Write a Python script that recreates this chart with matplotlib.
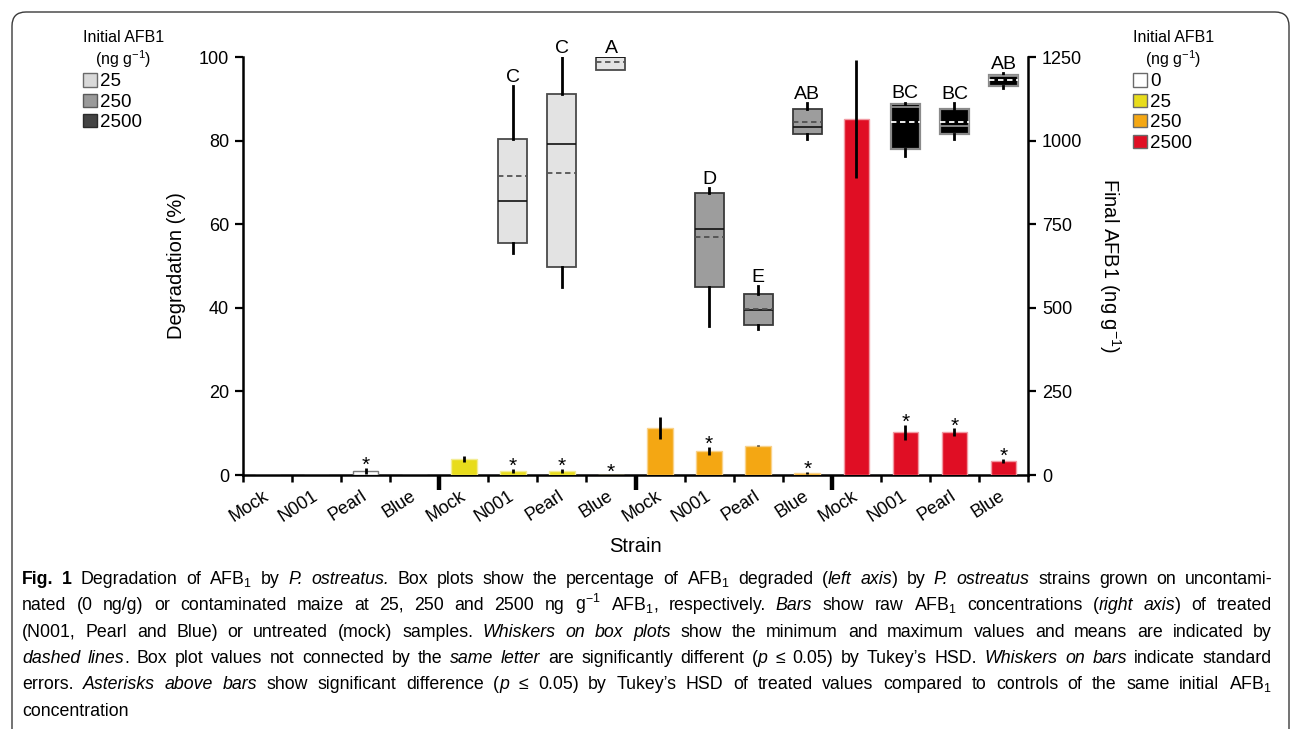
import matplotlib
matplotlib.use("Agg")
import matplotlib.pyplot as plt
from matplotlib import font_manager as fm
from matplotlib.patches import Patch, FancyBboxPatch
from matplotlib.transforms import IdentityTransform
import numpy as np

W, H = 1292, 729

plt.rcParams['font.family'] = ['Liberation Sans', 'DejaVu Sans']
plt.rcParams['mathtext.fontset'] = 'custom'
plt.rcParams['mathtext.rm'] = 'Liberation Sans'
plt.rcParams['mathtext.it'] = 'Liberation Sans:italic'
plt.rcParams['mathtext.bf'] = 'Liberation Sans:bold'

# ---- data ----
strains = ['Mock', 'N001', 'Pearl', 'Blue'] * 4
conc_labels = ['0', '25', '250', '2500']

# final AFB1 (ng/g), right axis bars
bar_final = [0, 0, 13, 0, 49, 12, 12, 0.8, 141, 72, 88, 7, 1064, 128, 128, 43]
bar_se = [0, 0, 9, 0, 9, 6, 6, 0.6, 32, 13, 1.5, 3, 177, 22, 12, 6]
bar_sig = [0, 0, 1, 0, 0, 1, 1, 1, 0, 1, 0, 1, 0, 1, 1, 1]

# degradation (%) box plots, left axis
box_cat = [5, 6, 7, 9, 10, 11, 13, 14, 15]
box_group = [1, 1, 1, 2, 2, 2, 3, 3, 3]
box_whishi = [93.0, 100.0, 100.0, 68.6, 45.2, 88.9, 89.1, 88.9, 96.2]
box_q3 = [80.3, 91.1, 100.0, 67.5, 43.3, 87.5, 88.7, 87.5, 95.8]
box_med = [65.5, 79.2, 100.0, 58.8, 39.4, 83.3, 88.0, 83.4, 95.5]
box_mean = [71.6, 72.3, 98.9, 56.9, 39.8, 84.4, 84.4, 84.4, 94.5]
box_q1 = [55.6, 49.8, 97.0, 45.0, 36.0, 81.5, 77.9, 81.6, 93.1]
box_whislo = [53.0, 45.0, 97.0, 35.7, 34.9, 80.5, 76.2, 80.5, 92.5]
box_letters = ['C', 'C', 'A', 'D', 'E', 'AB', 'BC', 'BC', 'AB']

# ---- styles ----
bar_face = ['#ffffff', '#e8dc1c', '#f4a713', '#e00e24']
bar_edge = ['#7a7a7a', '#f3ec95', '#f9d28a', '#f19aa3']
box_face = {1: '#e3e3e3', 2: '#9d9d9d', 3: '#000000'}
box_edge = {1: '#4a4a4a', 2: '#3a3a3a', 3: '#8a8a8a'}
box_medc = {1: '#111111', 2: '#111111', 3: '#9a9a9a'}
box_meanc = {1: '#555555', 2: '#505050', 3: '#ffffff'}

fig = plt.figure(figsize=(W / 100, H / 100), dpi=100)
ax = fig.add_axes([243 / W, 254 / H, 785 / W, 418 / H])
ax2 = ax.twinx()

ax.set_xlim(0, 16)
ax.set_ylim(0, 100)
ax2.set_ylim(0, 1250)

# bars
x = np.arange(16) + 0.5
grp = np.arange(16) // 4
ax2.bar(x, bar_final, width=0.52,
        color=[bar_face[g] for g in grp], edgecolor=[bar_edge[g] for g in grp],
        linewidth=1, yerr=bar_se,
        error_kw=dict(ecolor='black', elinewidth=2, capsize=0))
for xi, v, s, sig in zip(x, bar_final, bar_se, bar_sig):
    if sig:
        ax2.annotate('*', (xi, v + s), xytext=(0, -2.4), textcoords='offset points',
                     ha='center', va='baseline', fontsize=15)

# boxes
stats = []
for i in range(len(box_cat)):
    stats.append(dict(med=box_med[i], q1=box_q1[i], q3=box_q3[i], mean=box_mean[i],
                      whislo=box_whislo[i], whishi=box_whishi[i], fliers=[]))
pos = np.array(box_cat) + 0.5
bp = ax.bxp(stats, positions=pos, widths=0.59, patch_artist=True, showmeans=True,
            meanline=True, showcaps=False, showfliers=False, manage_ticks=False,
            whiskerprops=dict(color='black', linewidth=2),
            meanprops=dict(linestyle=(0, (3, 2)), linewidth=1.3),
            medianprops=dict(linewidth=1.2))
for i, g in enumerate(box_group):
    bp['boxes'][i].set_facecolor(box_face[g])
    bp['boxes'][i].set_edgecolor(box_edge[g])
    bp['boxes'][i].set_linewidth(1.3 if g < 3 else 1.6)
    bp['medians'][i].set_color(box_medc[g])
    bp['means'][i].set_color(box_meanc[g])
for p, top, lab in zip(pos, box_whishi, box_letters):
    ax.annotate(lab, (p, top), xytext=(0, 3), textcoords='offset points',
                ha='center', va='baseline', fontsize=14)

# axes styling
for a in (ax, ax2):
    a.spines['top'].set_visible(False)
ax.spines['right'].set_visible(False)
ax2.spines['left'].set_visible(False)
ax2.spines['bottom'].set_visible(False)
for a in (ax, ax2):
    for sp in a.spines.values():
        sp.set_linewidth(1.8)

ax.set_yticks(np.arange(0, 101, 20))
ax2.set_yticks(np.arange(0, 1251, 250))
ax.tick_params(axis='y', direction='out', length=6, width=1.6, labelsize=13, pad=4)
ax2.tick_params(axis='y', direction='out', length=6, width=1.6, labelsize=13, pad=4)

ax.set_xticks(np.arange(17))
ax.set_xticklabels([])
ax.set_xticks(x, strains, minor=True, rotation=33, ha='right', va='center',
              rotation_mode='anchor', fontsize=13)
ax.tick_params(axis='x', which='major', direction='out', length=5, width=1.8)
ax.tick_params(axis='x', which='minor', length=0, pad=14)
for i, t in enumerate(ax.xaxis.get_major_ticks()):
    if i in (4, 8, 12):
        t.tick1line.set_markersize(11)
        t.tick1line.set_markeredgewidth(3.2)

ax.set_xlabel('Strain', fontsize=14.5)
ax.xaxis.set_label_coords(0.5, -0.148)
ax.set_ylabel('Degradation (%)', fontsize=14.5)
ax.yaxis.set_label_coords(-0.072, 0.5)
ax2.set_ylabel('Final AFB1 (ng g$^{-1}$)', fontsize=14.5, rotation=270, va='bottom')
ax2.yaxis.set_label_coords(1.088, 0.5)

# legends
leg_kw = dict(loc='upper left', frameon=False, title='Initial AFB1\n(ng g$^{-1}$)',
              title_fontsize=11.5, fontsize=13.5, handlelength=0.72, handleheight=0.72,
              handletextpad=0.2, labelspacing=0.17, borderpad=0, borderaxespad=0,
              alignment='left')
left_faces = ['#d9d9d9', '#9a9a9a', '#444444']
left_edges = ['#6a6a6a', '#5a5a5a', '#2a2a2a']
h1 = [Patch(facecolor=f, edgecolor=e, linewidth=1) for f, e in zip(left_faces, left_edges)]
leg1 = fig.legend(h1, conc_labels[1:], bbox_to_anchor=(83 / W, 1 - 30 / H), **leg_kw)
h2 = [Patch(facecolor=f, edgecolor='#6a6a6a', linewidth=1) for f in bar_face]
leg2 = fig.legend(h2, conc_labels, bbox_to_anchor=(1133 / W, 1 - 30 / H), **leg_kw)
for lg in (leg1, leg2):
    lg.get_title().set_multialignment('center')

# rounded frame
frame = FancyBboxPatch((12, -30), 1277, H - 12 + 30, boxstyle='round,pad=0,rounding_size=14',
                       transform=IdentityTransform(), facecolor='none',
                       edgecolor='#3a3a3a', linewidth=1.0)
fig.add_artist(frame)


# caption
def has_font(name):
    try:
        fm.findfont(fm.FontProperties(family=name), fallback_to_default=False)
        return True
    except ValueError:
        return False


cap_font = 'Liberation Sans Narrow' if has_font('Liberation Sans Narrow') else 'Liberation Sans'

caption = [
    "#Fig. 1#  Degradation of AFB$_1$ by ~P. ostreatus.~ Box plots show the percentage of AFB$_1$ degraded (~left axis~) by ~P. ostreatus~ strains grown on uncontami-",
    "nated (0 ng/g) or contaminated maize at 25, 250 and 2500 ng g$^{-1}$ AFB$_1$, respectively. ~Bars~ show raw AFB$_1$ concentrations (~right axis~) of treated",
    "(N001, Pearl and Blue) or untreated (mock) samples. ~Whiskers on box plots~ show the minimum and maximum values and means are indicated by",
    "~dashed lines~. Box plot values not connected by the ~same letter~ are significantly different (~p~ \u2264 0.05) by Tukey\u2019s HSD. ~Whiskers on bars~ indicate standard",
    "errors. ~Asterisks above bars~ show significant difference (~p~ \u2264 0.05) by Tukey\u2019s HSD of treated values compared to controls of the same initial AFB$_1$",
    "concentration",
]
baselines = [584, 610, 637, 663, 689, 716]


def parse(markup):
    words, cur, buf = [], [], ''
    it = bf = False
    for ch in markup + ' ':
        if ch in '~#':
            if buf:
                cur.append((buf, it, bf))
                buf = ''
            if ch == '~':
                it = not it
            else:
                bf = not bf
        elif ch == ' ':
            if buf:
                cur.append((buf, it, bf))
                buf = ''
            if cur:
                words.append(cur)
                cur = []
        else:
            buf += ch
    return words


renderer = fig.canvas.get_renderer()
x0, x1 = 22, 1272


def make_line(line, size):
    placed, total = [], 0
    for w in parse(line):
        parts = []
        for txt, it, bf in w:
            t = fig.text(0, 0, txt, family=[cap_font, 'DejaVu Sans'], fontsize=size,
                         style='italic' if it else 'normal',
                         weight='bold' if bf else 'normal', va='baseline', ha='left')
            wd = t.get_window_extent(renderer).width
            parts.append((t, wd))
        placed.append(parts)
        total += sum(p[1] for p in parts)
    return placed, total


# find a size so the widest line fits with normal word spacing
base = 10.0
widest = 0
for line in caption:
    placed, total = make_line(line, base)
    nat = total + (len(placed) - 1) * base * 100 / 72 * 0.28
    widest = max(widest, nat)
    for parts in placed:
        for t, _ in parts:
            t.remove()
cap_size = min(12.8, base * (x1 - x0) / widest)

for li, (line, yb) in enumerate(zip(caption, baselines)):
    placed, total = make_line(line, cap_size)
    if li < len(caption) - 1 and len(placed) > 1:
        gap = (x1 - x0 - total) / (len(placed) - 1)
    else:
        gap = cap_size * 100 / 72 * 0.28
    cx = x0
    for parts in placed:
        for t, wd in parts:
            t.set_position((cx / W, 1 - yb / H))
            cx += wd
        cx += gap

fig.savefig('out.png', dpi=100)
